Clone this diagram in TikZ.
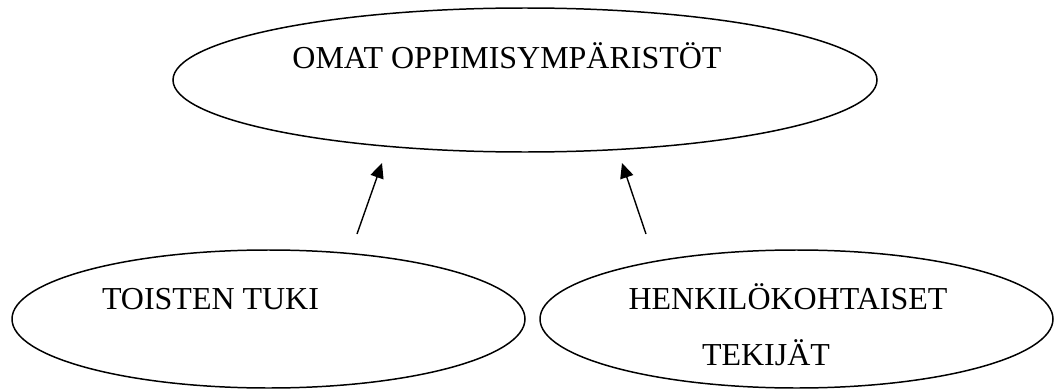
\documentclass[tikz,border=0pt]{standalone}
\usepackage{fontspec}
\setmainfont{Liberation Serif}
\usetikzlibrary{shapes.geometric, arrows.meta, positioning, calc}

\begin{document}
\begin{tikzpicture}[
    x=0.02cm, y=-0.02cm,
    oval/.style={ellipse, draw, line width=0.85pt, inner sep=0pt},
    txt/.style={anchor=base, inner sep=0pt, font=\fontsize{18.2pt}{22pt}\selectfont},
    arrow/.style={-{Triangle[length=0.3cm, width=0.27cm]}, line width=0.8pt}
]
\useasboundingbox (0,0) rectangle (1056,392);
\node[oval, minimum width=704*0.02cm, minimum height=144*0.02cm] (omat) at (525,80) {};
\node[oval, minimum width=513*0.02cm, minimum height=138*0.02cm] (tuki) at (268.5,319) {};
\node[oval, minimum width=513*0.02cm, minimum height=138*0.02cm] (tekijat) at (796.5,319) {};

\node[txt] (omattxt) at (507,69) {OMAT OPPIMISYMPÄRISTÖT};
\node[txt] (tukitxt) at (210.5,309) {TOISTEN TUKI};
\node[txt] (henktxt) at (788,309) {HENKILÖKOHTAISET};
\node[txt] (tekijattxt) at (766,365) {TEKIJÄT};

\coordinate (tukiout) at (357,234);
\coordinate (omatinl) at (382,163);
\coordinate (tekijatout) at (646,234);
\coordinate (omatinr) at (622,163);

\draw[arrow] (tukiout) -- (omatinl);
\draw[arrow] (tekijatout) -- (omatinr);
\end{tikzpicture}
\end{document}
